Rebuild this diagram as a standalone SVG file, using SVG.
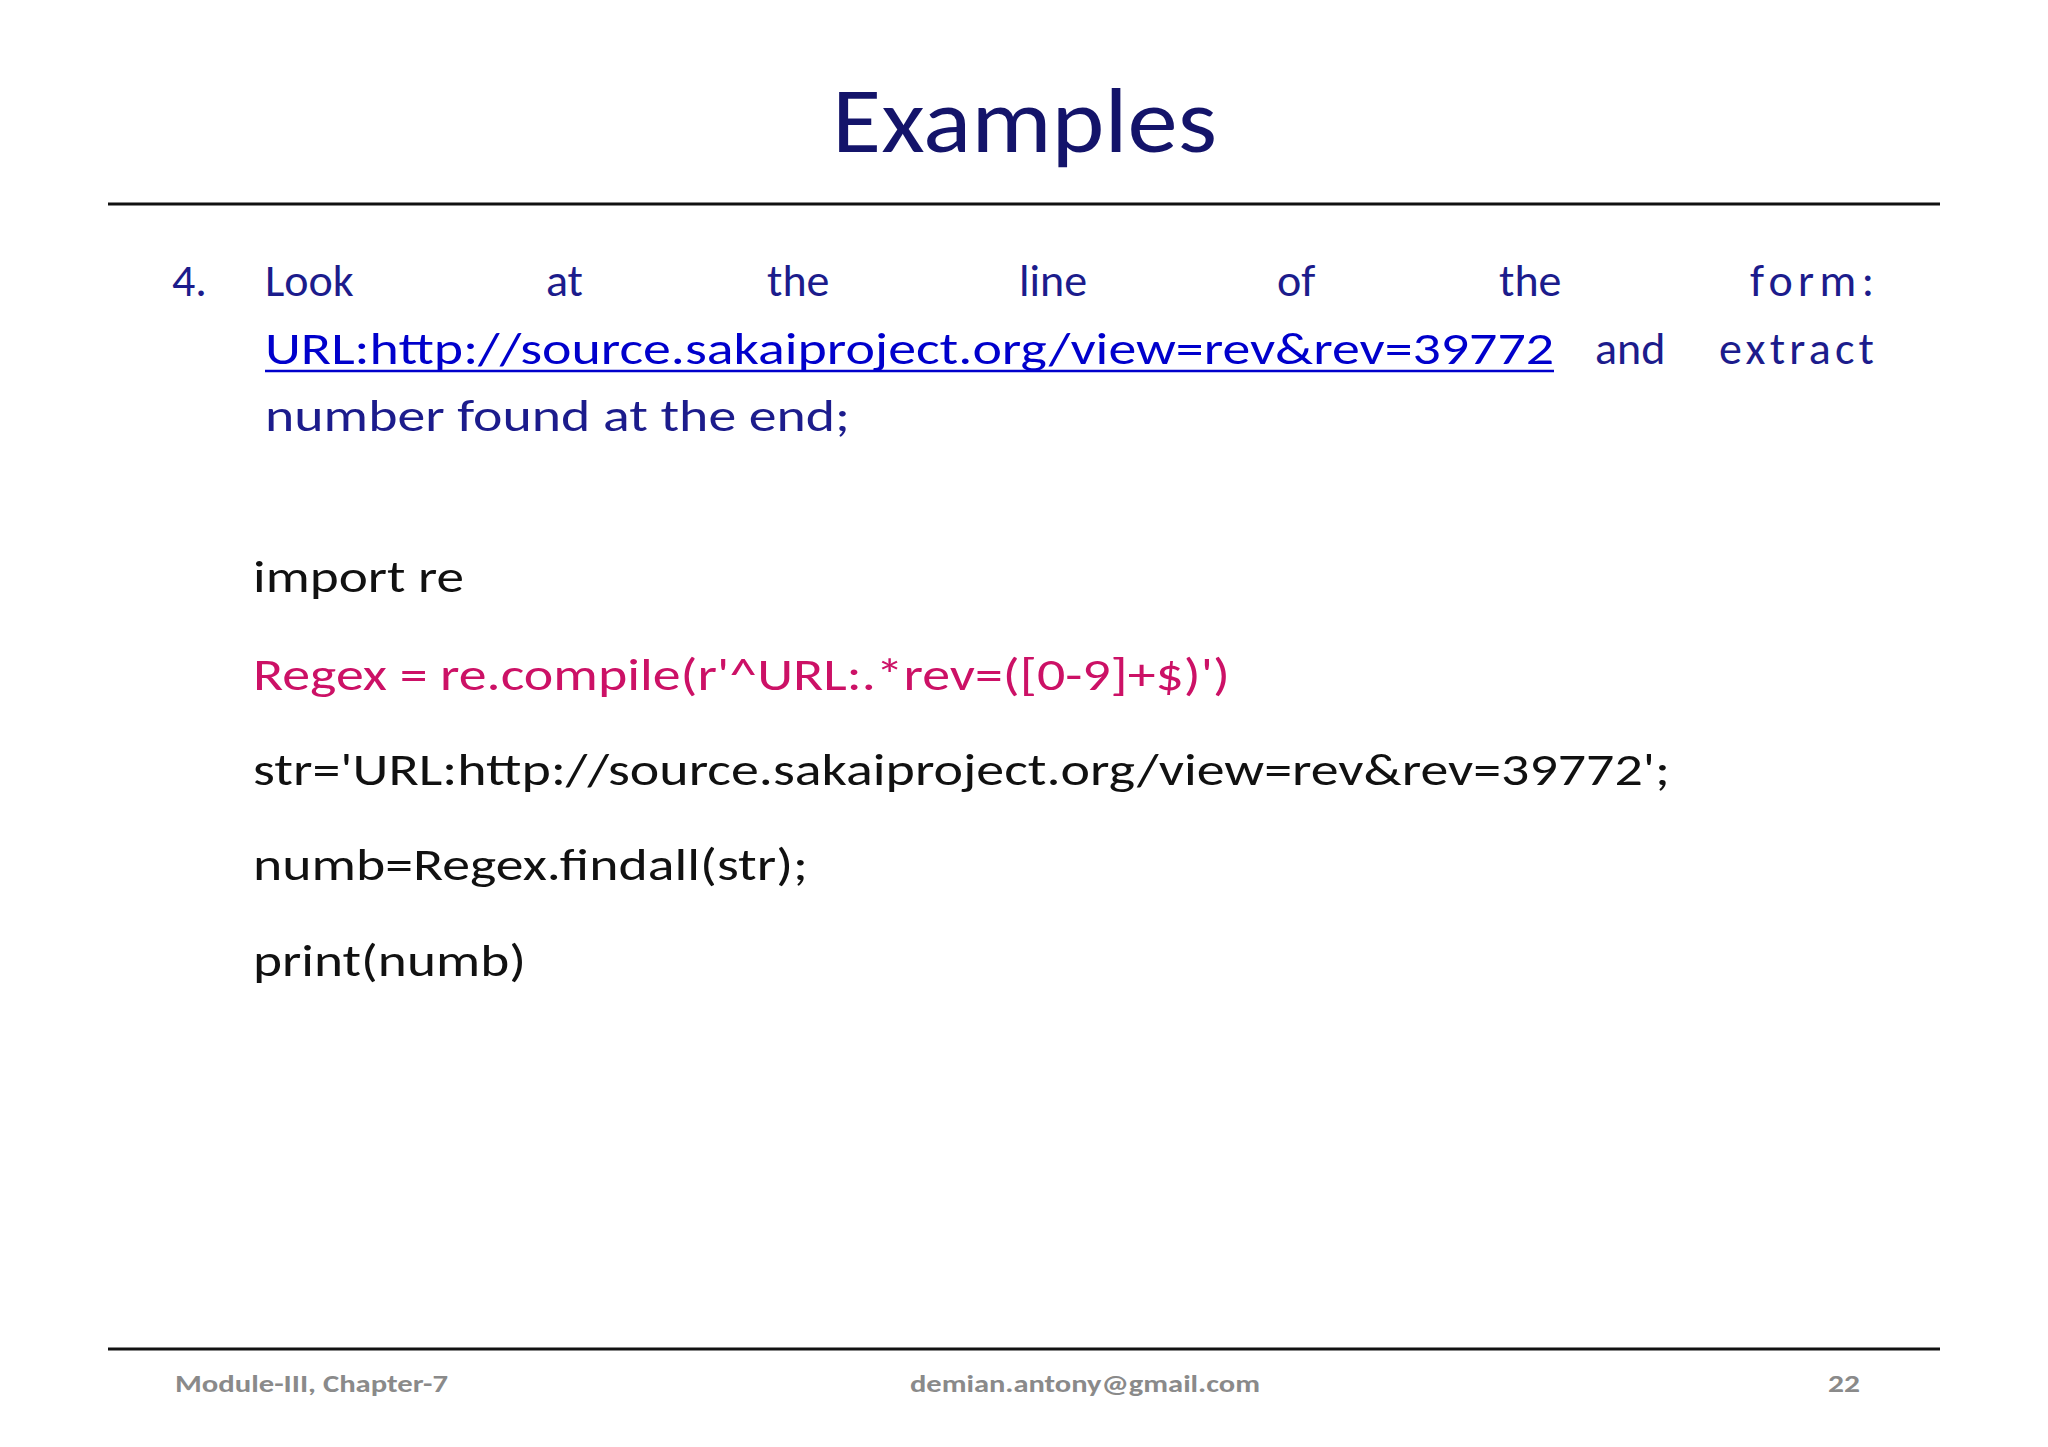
<svg xmlns="http://www.w3.org/2000/svg" width="2048" height="1447" viewBox="0 0 2048 1447">
<style>
.b{font-family:Carlito,"Open Sans","Liberation Sans",sans-serif;font-size:46px;fill:#1c1c8c}
.c{font-family:Carlito,"Open Sans","Liberation Sans",sans-serif;font-size:46px;fill:#111}
.f{font-family:Carlito,"Open Sans","Liberation Sans",sans-serif;font-size:25px;font-weight:bold;fill:#8a8a8a}
</style>
<rect width="2048" height="1447" fill="#fff"/>
<g id="title"><text x="832" y="152" textLength="385" lengthAdjust="spacingAndGlyphs" style="font-family:Carlito,'Open Sans','Liberation Sans',sans-serif;font-size:92px;fill:#14146a">Examples</text></g>
<g id="rules" stroke="#111" stroke-width="3"><line x1="108" y1="204" x2="1940" y2="204"/><line x1="108" y1="1349" x2="1940" y2="1349"/></g>
<g id="question" class="b">
<text class="b" x="172" y="296">4.</text>
<text class="b" x="265" y="296">Look</text><text class="b" x="546" y="296">at</text><text class="b" x="767" y="296">the</text><text class="b" x="1019" y="296">line</text><text class="b" x="1277" y="296">of</text><text class="b" x="1499" y="296">the</text><text class="b" x="1750" y="296" textLength="124">form:</text>
<text class="b" x="265" y="364" textLength="1289" lengthAdjust="spacingAndGlyphs" style="fill:#0000cc">URL:http://source.sakaiproject.org/view=rev&amp;rev=39772</text>
<line x1="265" y1="371" x2="1554" y2="371" stroke="#0000cc" stroke-width="2.5"/>
<text class="b" x="1595" y="364">and</text><text class="b" x="1719" y="364" textLength="155">extract</text>
<text class="b" x="265" y="431" textLength="585" lengthAdjust="spacingAndGlyphs">number found at the end;</text>
</g>
<g id="code">
<text class="c" x="253" y="592" textLength="211" lengthAdjust="spacingAndGlyphs">import re</text>
<text class="c" x="253" y="690" textLength="977" lengthAdjust="spacingAndGlyphs" style="fill:#cc1166">Regex = re.compile(r'^URL:.*rev=([0-9]+$)')</text>
<text class="c" x="253" y="785" textLength="1417" lengthAdjust="spacingAndGlyphs">str='URL:http://source.sakaiproject.org/view=rev&amp;rev=39772';</text>
<text class="c" x="253" y="880" textLength="555" lengthAdjust="spacingAndGlyphs">numb=Regex.findall(str);</text>
<text class="c" x="253" y="976" textLength="273" lengthAdjust="spacingAndGlyphs">print(numb)</text>
</g>
<g id="footer">
<text class="f" x="175" y="1392" textLength="273" lengthAdjust="spacingAndGlyphs">Module-III, Chapter-7</text>
<text class="f" x="910" y="1392" textLength="350" lengthAdjust="spacingAndGlyphs">demian.antony@gmail.com</text>
<text class="f" x="1828" y="1392" textLength="32" lengthAdjust="spacingAndGlyphs">22</text>
</g>
</svg>
